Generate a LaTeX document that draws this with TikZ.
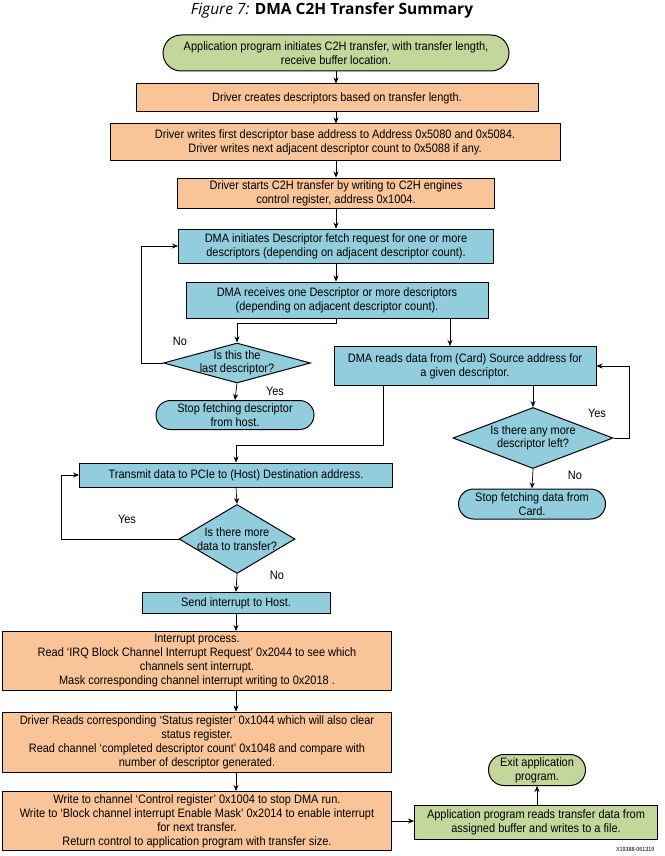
\documentclass[tikz,border=0pt]{standalone}
\usepackage{fontspec}
\setmainfont{Liberation Sans}[FakeStretch=0.9]
\newfontfamily\titlefont{Open Sans}
\usetikzlibrary{shapes.geometric,shapes.misc,arrows.meta}
\definecolor{ocol}{RGB}{248,196,152}
\definecolor{bcol}{RGB}{146,205,221}
\definecolor{gcol}{RGB}{196,215,155}
\tikzset{box/.style={rectangle,draw,line width=1pt,inner sep=1pt,align=center,font=\fontsize{12.2}{14}\selectfont}}
\tikzset{orangebox/.style={box,fill=ocol}}
\tikzset{bluebox/.style={box,fill=bcol}}
\tikzset{term/.style={box,rounded rectangle}}
\tikzset{decide/.style={diamond,draw,line width=1pt,fill=bcol,inner sep=0pt}}
\tikzset{edge/.style={-{Stealth[length=6pt,width=5pt]},line width=0.7pt}}
\tikzset{tag/.style={font=\fontsize{12.2}{13.5}\selectfont}}

\begin{document}
\begin{tikzpicture}[x=1pt,y=-1pt]
\useasboundingbox (0,0) rectangle (664,856);

\node [font=\titlefont\fontsize{15.5}{17}\selectfont] (title) at (332,10) {\textit{Figure 7:} \textbf{DMA C2H Transfer Summary}};

\node [term,fill=gcol,minimum width=348pt,minimum height=36pt] (start) at (336,53) {Application program initiates C2H transfer, with transfer length,\\receive buffer location.};
\node [orangebox,minimum width=402pt,minimum height=28pt] (drv1) at (337,98) {Driver creates descriptors based on transfer length.};
\node [orangebox,minimum width=450pt,minimum height=36pt] (drv2) at (335,142) {Driver writes first descriptor base address to Address 0x5080 and 0x5084.\\Driver writes next adjacent descriptor count to 0x5088 if any.};
\node [orangebox,minimum width=317pt,minimum height=30pt] (drv3) at (336,193) {Driver starts C2H transfer by writing to C2H engines\\control register, address 0x1004.};

\node [bluebox,minimum width=315pt,minimum height=34pt] (fetch) at (336,246) {DMA initiates Descriptor fetch request for one or more\\descriptors (depending on adjacent descriptor count).};
\node [bluebox,minimum width=302pt,minimum height=36pt] (recv) at (337,300) {DMA receives one Descriptor or more descriptors\\(depending on adjacent descriptor count).};

\node [decide,minimum width=147pt,minimum height=40pt,label={[tag,align=center]center:Is this the\\last descriptor?}] (last) at (237,363) {};
\node [term,fill=bcol,minimum width=160pt,minimum height=29pt] (stopd) at (235,415) {Stop fetching descriptor\\from host.};

\node [bluebox,minimum width=262pt,minimum height=39pt] (rd) at (465,366) {DMA reads data from (Card) Source address for\\a given descriptor.};
\node [decide,minimum width=160pt,minimum height=61pt,label={[tag,align=center]center:Is there any more\\descriptor left?}] (more) at (533,438) {};
\node [term,fill=bcol,minimum width=149pt,minimum height=30pt] (stopc) at (532,504) {Stop fetching data from\\Card.};

\node [bluebox,minimum width=313pt,minimum height=24pt] (tx) at (236,475) {Transmit data to PCIe to (Host) Destination address.};
\node [decide,minimum width=116pt,minimum height=69pt,label={[tag,align=center]center:Is there more\\data to transfer?}] (moredata) at (237,539) {};
\node [bluebox,minimum width=188pt,minimum height=21pt] (host) at (236,603) {Send interrupt to Host.};

\node [orangebox,minimum width=389pt,minimum height=59pt] (isr) at (197,661) {Interrupt process.\\Read ‘IRQ Block Channel Interrupt Request’ 0x2044 to see which\\channels sent interrupt.\\Mask corresponding channel interrupt writing to 0x2018 .};
\node [orangebox,minimum width=389pt,minimum height=60pt] (status) at (197,742) {Driver Reads corresponding ‘Status register’ 0x1044 which will also clear\\status register.\\Read channel ‘completed descriptor count’ 0x1048 and compare with\\number of descriptor generated.};
\node [orangebox,minimum width=389pt,minimum height=59pt] (ctrl) at (197,821) {Write to channel ‘Control register’ 0x1004 to stop DMA run.\\Write to ‘Block channel interrupt Enable Mask’ 0x2014 to enable interrupt\\for next transfer.\\Return control to application program with transfer size.};

\node [box,fill=gcol,minimum width=243pt,minimum height=34pt] (copy) at (536,822) {Application program reads transfer data from\\assigned buffer and writes to a file.};
\node [term,fill=gcol,minimum width=99pt,minimum height=31pt] (exit) at (537,770) {Exit application\\program.};

\node [font=\fontsize{6}{7}\selectfont,anchor=east] (code) at (658,849) {X19388-061319};

% main column
\draw [edge] (start.south) -- (start.south |- drv1.north);
\draw [edge] (start.south |- drv1.south) -- (start.south |- drv2.north);
\draw [edge] (start.south |- drv2.south) -- (start.south |- drv3.north);
\draw [edge] (start.south |- drv3.south) -- (start.south |- fetch.north);
\draw [edge] (start.south |- fetch.south) -- (start.south |- recv.north);

% descriptor loop
\draw [edge] (start.south |- recv.south) -- ++(0,5) -| (last.north);
\draw [edge] (last.west) -- ++(-22,0) |- (fetch.west);
\draw [edge] (last.south) -- (stopd.north);
\node [tag] (no1) at (180,341) {No};
\node [tag] (yes1) at (275,391) {Yes};

% card read loop
\draw [edge] ([xshift=-15pt]rd.north |- recv.south) -- ([xshift=-15pt]rd.north);
\draw [edge] (more.north |- rd.south) -- (more.north);
\draw [edge] (more.east) -- ++(16,0) |- (rd.east);
\draw [edge] (more.south) -- (stopc.north);
\node [tag] (yes2) at (597,413) {Yes};
\node [tag] (no2) at (575,475) {No};

% host write loop
\draw [edge] ([xshift=-82pt]rd.south) -- ++(0,59) -| (tx.north);
\draw [edge] (tx.south) -- (moredata.north);
\draw [edge] (moredata.west) -- ++(-117,0) |- (tx.west);
\draw [edge] (moredata.south) -- (host.north);
\node [tag] (yes3) at (127,519) {Yes};
\node [tag] (no3) at (277,575) {No};

% interrupt handling
\draw [edge] (host.south) -- (host.south |- isr.north);
\draw [edge] (host.south |- isr.south) -- (host.south |- status.north);
\draw [edge] (host.south |- status.south) -- (host.south |- ctrl.north);
\draw [edge] (ctrl.east) -- (ctrl.east -| copy.west);
\draw [edge] (copy.north -| exit.south) -- (exit.south);
\end{tikzpicture}
\end{document}
